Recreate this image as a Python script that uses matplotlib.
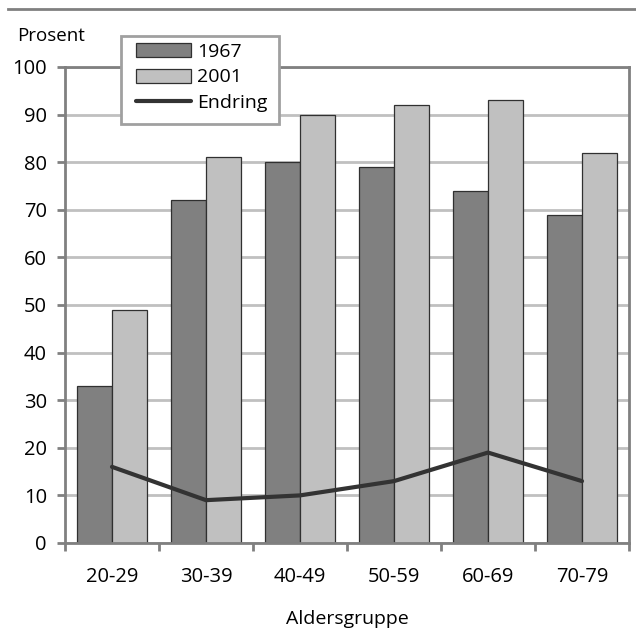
import matplotlib.pyplot as plt
import matplotlib.patches as mpatches
import numpy as np

# data
groups = ['20-29', '30-39', '40-49', '50-59', '60-69', '70-79']
v1967 = [33, 72, 80, 79, 74, 69]
v2001 = [49, 81, 90, 92, 93, 82]
endring = [16, 9, 10, 13, 19, 13]

plt.rcParams['font.family'] = ['Open Sans', 'DejaVu Sans']
plt.rcParams['font.size'] = 14

W, H = 636, 630
fig = plt.figure(figsize=(W/100, H/100), dpi=100)
ax = fig.add_axes([65/W, 1 - 543/H, (629-65)/W, (543-67)/H])

x = np.arange(len(groups))
w = 0.372
b1 = ax.bar(x - w/2, v1967, w, color='#808080', edgecolor='#303030', linewidth=0.9, zorder=2)
b2 = ax.bar(x + w/2, v2001, w, color='#c0c0c0', edgecolor='#303030', linewidth=0.9, zorder=2)
ln, = ax.plot(x, endring, color='#333333', linewidth=3, solid_capstyle='round', zorder=3)

ax.set_xlim(-0.5, len(groups) - 0.5)
ax.set_ylim(0, 100)
ax.set_yticks(range(0, 101, 10))
ax.yaxis.grid(True, color='#c0c0c0', linewidth=2)
ax.set_axisbelow(True)

ax.set_xticks(x)
ax.set_xticklabels(groups, fontsize=14.5)
ax.set_xticks(np.arange(-0.5, len(groups)), minor=True)
ax.tick_params(axis='x', which='major', length=0, pad=17)
ax.tick_params(axis='x', which='minor', length=6, width=2, color='#808080', direction='out')
ax.tick_params(axis='y', length=6, width=2, color='#808080', direction='out', pad=7, labelsize=14.5)

for s in ax.spines.values():
    s.set_color('#808080')
    s.set_linewidth(2)

ax.set_xlabel('Aldersgruppe', fontsize=14, labelpad=17)
fig.text(17/W, 1 - 36/H, 'Prosent', ha='left', va='center', fontsize=13.5)

# legend box drawn separately so the padding can match the reference
box = mpatches.Rectangle((121/W, 1 - 124/H), (279-121)/W, (124-36)/H, transform=fig.transFigure,
                         facecolor='white', edgecolor='#a0a0a0', linewidth=2, zorder=4)
fig.add_artist(box)
leg = fig.legend([b1, b2, ln], ['1967', '2001', 'Endring'], loc='upper left',
                 bbox_to_anchor=(136/W, 1 - 43/H), frameon=False, fontsize=14,
                 borderpad=0, handlelength=2.85, handleheight=0.72, handletextpad=0.3,
                 labelspacing=0.38, borderaxespad=0)
leg.set_zorder(5)

# thin rule at the top of the figure, remnant of the page heading
fig.add_artist(plt.Line2D([8/W, 1], [1 - 9/H, 1 - 9/H], color='#808080', linewidth=2))

fig.savefig('out.png', dpi=100)
